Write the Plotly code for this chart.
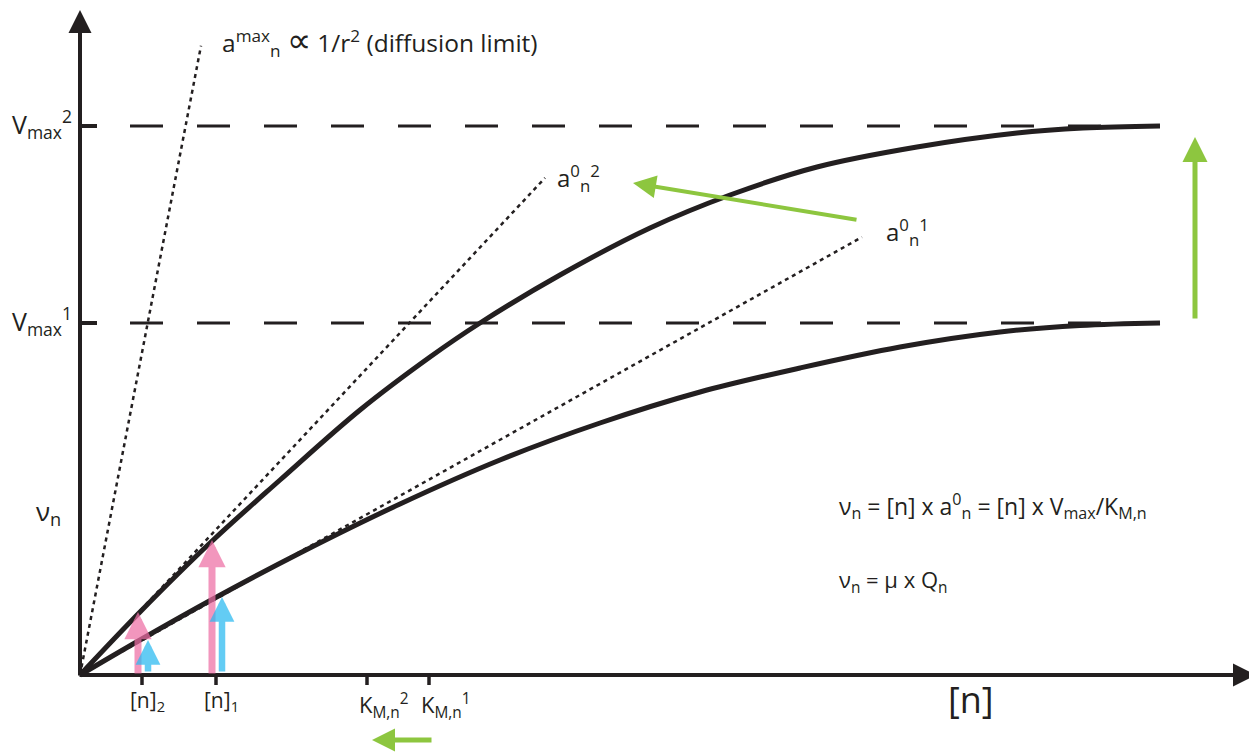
import plotly.graph_objects as go

# ---------------- data (schematic units: substrate [n] vs uptake rate v_n) ----------------
n_points2 = [0, 60, 130, 200, 280, 350, 400, 480, 570, 650, 737, 837, 937, 1003, 1080]
v_curve2 = [0, 63, 132, 195, 265, 318, 352, 400, 447, 480, 508, 528, 542, 547, 549]

n_points1 = [0, 60, 133, 220, 320, 420, 520, 620, 720, 820, 920, 1000, 1080]
v_curve1 = [0, 35, 76, 122, 171, 215, 252, 283, 307, 328, 343, 349.5, 352]

vmax_values = [352, 549]            # Vmax^1, Vmax^2
vmax_labels = ["V<sub>max</sub><sup>1</sup>", "V<sub>max</sub><sup>2</sup>"]

conc_ticks = [62, 136]              # [n]_2, [n]_1
conc_labels = ["[n]<sub>2</sub>", "[n]<sub>1</sub>"]
km_ticks = [287, 349]               # K_M,n^2, K_M,n^1
km_labels = ["K<sub>M,n</sub><sup>2</sup>", "K<sub>M,n</sub><sup>1</sup>"]

# initial slopes a0_n (tangents) and diffusion limit
tangent_slopes = [0.56, 1.069]      # a0_n^1, a0_n^2
tangent_ends = [782, 465]
tangent_labels = ["a<sup>0</sup><sub>n</sub><sup>1</sup>", "a<sup>0</sup><sub>n</sub><sup>2</sup>"]
diff_slope = 5.2
diff_end = 121

# uptake at [n]_2, [n]_1 on each curve (pink: curve 2, blue: curve 1)
uptake2 = [63, 135]
uptake1 = [35, 78]

BLACK = "#231f20"
GREEN = "#8dc63f"
PINK = "#ee6ea5"
BLUE = "#28b9f0"
FONT = "Open Sans"

fig = go.Figure()

# Vmax dashed lines
for v in vmax_values:
    fig.add_trace(go.Scatter(x=[50, 1080], y=[v, v], mode="lines",
                             line=dict(color=BLACK, width=3, dash="33px,34px"),
                             hoverinfo="skip", showlegend=False))

# dotted tangents
for s, e in zip(tangent_slopes, tangent_ends):
    fig.add_trace(go.Scatter(x=[0, e], y=[0, s * e], mode="lines",
                             line=dict(color=BLACK, width=2.5, dash="4px,4px"),
                             hoverinfo="skip", showlegend=False))
fig.add_trace(go.Scatter(x=[0, diff_end], y=[0, diff_slope * diff_end], mode="lines",
                         line=dict(color=BLACK, width=2.5, dash="4px,4px"),
                         hoverinfo="skip", showlegend=False))

# saturation curves
fig.add_trace(go.Scatter(x=n_points1, y=v_curve1, mode="lines", line_shape="spline",
                         line=dict(color=BLACK, width=5), hoverinfo="skip", showlegend=False))
fig.add_trace(go.Scatter(x=n_points2, y=v_curve2, mode="lines", line_shape="spline",
                         line=dict(color=BLACK, width=5), hoverinfo="skip", showlegend=False))

shapes = []
# y ticks
for v in vmax_values:
    shapes.append(dict(type="line", xref="x", yref="y", x0=0, x1=17, y0=v, y1=v,
                       line=dict(color=BLACK, width=4)))
# x ticks
for t in conc_ticks + km_ticks:
    shapes.append(dict(type="line", xref="x", yref="y", x0=t, x1=t, y0=0, y1=-10,
                       line=dict(color=BLACK, width=3.5)))

ann = []


def arrow(x0, y0, x1, y1, color, width, size, opacity=1.0):
    ann.append(dict(x=x1, y=y1, ax=x0, ay=y0, xref="x", yref="y", axref="x", ayref="y",
                    text="", showarrow=True, arrowhead=2, arrowwidth=width, arrowsize=size,
                    arrowcolor=color, opacity=opacity, standoff=0))


# axes with arrows
arrow(0, -2, 0, 665, BLACK, 4, 1.15)
arrow(-2, 0, 1176, 0, BLACK, 4, 1.15)

# pink / blue uptake arrows
for t, u2, u1 in zip(conc_ticks, uptake2, uptake1):
    arrow(t - 4, 0, t - 4, u2, PINK, 7, 0.78, 0.72)
    arrow(t + 6, 2, t + 6, u1, BLUE, 6.5, 0.76, 0.72)

# green arrows
arrow(1115, vmax_values[0] + 3, 1115, vmax_values[1] - 11, GREEN, 5, 1.0)
arrow(tangent_ends[0] - 4, 455, tangent_ends[1] + 88, 492, GREEN, 4, 1.15)
arrow(km_ticks[1] + 4, -65, km_ticks[0] + 5, -65, GREEN, 5, 0.92)


def label(x, y, text, size, xanchor="left", yanchor="middle"):
    ann.append(dict(x=x, y=y, xref="x", yref="y", text=text, showarrow=False,
                    xanchor=xanchor, yanchor=yanchor,
                    font=dict(family=FONT, size=size, color=BLACK)))


for v, t in zip(vmax_values, vmax_labels):
    label(-70, v + 2, t, 25)

label(-46, 163, "ν<sub>n</sub>", 26)

for t, txt in zip(conc_ticks, conc_labels):
    label(t - 14, -26, txt, 21)
for t, txt in zip(km_ticks, km_labels):
    label(t - 10, -30, txt, 22)

label(891, -24, "[n]", 36, xanchor="center")

label(140, 636, "a<sup>max</sup><sub>n</sub> <span style=\"font-size:34px\">∝</span> 1/r<sup>2</sup> (diffusion limit)", 24.5)
label(tangent_ends[1] + 10, 497, tangent_labels[1], 24)
label(tangent_ends[0] + 22, 443, tangent_labels[0], 24)

label(757, 169, "ν<sub>n</sub> = [n] x a<sup>0</sup><sub>n</sub> = [n] x V<sub>max</sub>/K<sub>M,n</sub>", 23)
label(757, 94, "ν<sub>n</sub> = μ x Q<sub>n</sub>", 22)

# the page adds an 8px body margin: shift the figure so the drawing lands at the same pixels
fig.update_layout(
    width=1249, height=747, autosize=False,
    margin=dict(l=0, r=0, t=0, b=0),
    paper_bgcolor="white", plot_bgcolor="white",
    xaxis=dict(range=[-72, 1177], visible=False, fixedrange=True),
    yaxis=dict(range=[-80, 667], visible=False, fixedrange=True),
    shapes=shapes, annotations=ann, showlegend=False,
)

fig.write_html("out.html")
